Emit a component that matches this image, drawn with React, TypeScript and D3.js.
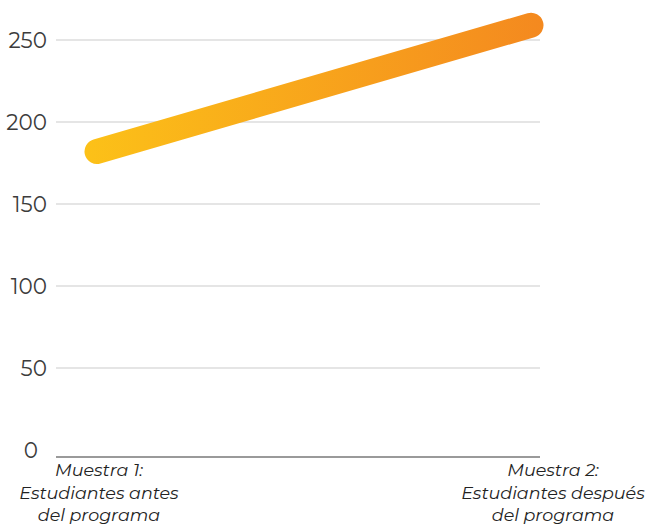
import React from "react";
import * as d3 from "d3";

const categories = ["Muestra 1:\nEstudiantes antes\ndel programa", "Muestra 2:\nEstudiantes después\ndel programa"];
const values = [182, 259];
const yTicks = [0, 50, 100, 150, 200, 250];

const W = 649;
const H = 525;

export default function App() {
  const y = d3.scaleLinear().domain([0, 250]).range([450, 40]);
  const x = d3.scalePoint<string>().domain(categories).range([97, 531]);
  const labelX = [x(categories[0])! + 2, x(categories[1])! + 22];
  const line = d3
    .line<number>()
    .x((_, i) => x(categories[i])!)
    .y((d) => y(d));
  const font = "Montserrat, 'Noto Sans', 'Open Sans', sans-serif";
  return (
    <svg width={W} height={H} style={{ position: "absolute", left: 0, top: 0, background: "#fff" }}>
      <defs>
        <linearGradient id="grad" gradientUnits="userSpaceOnUse" x1={x(categories[0])! - 12} x2={x(categories[1])! + 12} y1={0} y2={0}>
          <stop offset="0%" stopColor="#FCC118" />
          <stop offset="100%" stopColor="#F4891F" />
        </linearGradient>
      </defs>
      {yTicks.filter((t) => t > 0).map((t) => (
        <line key={t} x1={56} x2={540} y1={y(t)} y2={y(t)} stroke="#dcdcdc" strokeWidth={1.5} />
      ))}
      <line x1={56} x2={540} y1={457} y2={457} stroke="#9a9a9a" strokeWidth={2} />
      {yTicks.map((t) => (
        <text
          key={t}
          x={t === 0 ? 38 : 47}
          y={y(t)}
          dy="0.35em"
          textAnchor="end"
          fontFamily={font}
          fontSize={21.5}
          fontWeight={400}
          fill="#3c3c3c"
        >
          {t}
        </text>
      ))}
      <path d={line(values)!} fill="none" stroke="url(#grad)" strokeWidth={25} strokeLinecap="round" />
      {categories.map((c, i) => (
        <text key={c} textAnchor="middle" fontFamily={font} fontStyle="italic" fontSize={17.5} fill="#222">
          {c.split("\n").map((ln, j) => (
            <tspan key={j} x={labelX[i]} y={476 + j * 22.5}>
              {ln}
            </tspan>
          ))}
        </text>
      ))}
    </svg>
  );
}
